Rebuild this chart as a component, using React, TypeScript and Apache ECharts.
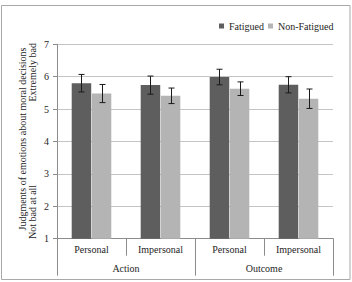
import React, { useEffect, useRef } from "react";
import * as echarts from "echarts";

// Conditions (inner axis level) and their groups (outer axis level)
const conditions = ["Personal", "Impersonal", "Personal", "Impersonal"];
const groups = ["Action", "Outcome"];

// Mean ratings and error margins per condition
const fatigued = [5.8, 5.74, 5.99, 5.75];
const fatiguedErr = [0.27, 0.28, 0.24, 0.25];
const nonFatigued = [5.48, 5.41, 5.63, 5.32];
const nonFatiguedErr = [0.28, 0.24, 0.21, 0.3];

const yTicks = [1, 2, 3, 4, 5, 6, 7];

const FONT = "Liberation Serif";
const DARK = "#5e5e5e";
const LIGHT = "#b4b4b4";
const AXIS = "#8c8c8c";
const GRID = "#c4c4c4";
const TEXT = "#1e1e1e";

const BAR_W = 19.5;
const BAR_GAP = 0.03;
const HALF_STEP = (BAR_W * (1 + BAR_GAP)) / 2;

function errorSeries(name: string, means: number[], errs: number[], dx: number) {
  return {
    name,
    type: "custom",
    xAxisIndex: 0,
    yAxisIndex: 0,
    z: 10,
    silent: true,
    data: means.map((m, i) => [i, m, errs[i]]),
    encode: { x: 0, y: 1 },
    renderItem: (_params: any, api: any) => {
      const cat = api.value(0);
      const mean = api.value(1);
      const err = api.value(2);
      const top = api.coord([cat, mean + err]);
      const bot = api.coord([cat, mean - err]);
      const x = Math.round(top[0] + dx) + 0.5;
      const style = { stroke: "#1a1a1a", lineWidth: 1 };
      return {
        type: "group",
        children: [
          { type: "line", shape: { x1: x, y1: top[1], x2: x, y2: bot[1] }, style },
          { type: "line", shape: { x1: x - 3, y1: top[1], x2: x + 3, y2: top[1] }, style },
          { type: "line", shape: { x1: x - 3, y1: bot[1], x2: x + 3, y2: bot[1] }, style },
        ],
      };
    },
  };
}

function titleText(text: string, x: number, y: number, align: string) {
  return {
    type: "text",
    x,
    y,
    rotation: Math.PI / 2,
    silent: true,
    style: {
      text,
      fontFamily: FONT,
      fontSize: 10,
      fill: TEXT,
      align,
      verticalAlign: "middle",
    },
  };
}

export default function App() {
  const ref = useRef<HTMLDivElement>(null);

  useEffect(() => {
    if (!ref.current) return;
    const chart = echarts.init(ref.current, undefined, { renderer: "svg" });
    chart.setOption({
      animation: false,
      backgroundColor: "#ffffff",
      textStyle: { fontFamily: FONT },
      grid: { left: 57, right: 19, top: 44.3, bottom: 43.3, containLabel: false },
      legend: {
        data: ["Fatigued", "Non-Fatigued"],
        left: 219,
        top: 21,
        padding: 0,
        icon: "rect",
        itemWidth: 5,
        itemHeight: 5,
        itemGap: 4,
        textStyle: { fontFamily: FONT, fontSize: 10, color: TEXT },
      },
      xAxis: [
        {
          type: "category",
          data: conditions,
          position: "bottom",
          axisLine: { show: true, lineStyle: { color: AXIS, width: 1 } },
          axisTick: { show: true, length: 17, interval: 0, lineStyle: { color: AXIS } },
          axisLabel: { interval: 0, margin: 6, fontSize: 10, color: TEXT, fontFamily: FONT },
          splitLine: { show: false },
        },
        {
          type: "category",
          data: groups,
          position: "bottom",
          axisLine: { show: false },
          axisTick: { show: true, length: 37, interval: 0, lineStyle: { color: AXIS } },
          axisLabel: { interval: 0, margin: 25, fontSize: 10, color: TEXT, fontFamily: FONT },
          splitLine: { show: false },
        },
      ],
      yAxis: {
        type: "value",
        min: yTicks[0],
        max: yTicks[yTicks.length - 1],
        interval: 1,
        axisLine: { show: true, lineStyle: { color: AXIS, width: 1 } },
        axisTick: { show: true, length: 4, lineStyle: { color: AXIS } },
        axisLabel: { margin: 8, fontSize: 10, color: TEXT, fontFamily: FONT },
        splitLine: { show: true, lineStyle: { color: GRID, width: 1 } },
      },
      series: [
        {
          name: "Fatigued",
          type: "bar",
          data: fatigued,
          barWidth: BAR_W,
          barGap: `${BAR_GAP * 100}%`,
          itemStyle: { color: DARK },
        },
        {
          name: "Non-Fatigued",
          type: "bar",
          data: nonFatigued,
          barWidth: BAR_W,
          barGap: `${BAR_GAP * 100}%`,
          itemStyle: { color: LIGHT },
        },
        errorSeries("Fatigued SE", fatigued, fatiguedErr, -HALF_STEP),
        errorSeries("Non-Fatigued SE", nonFatigued, nonFatiguedErr, HALF_STEP),
      ],
      graphic: [
        {
          type: "rect",
          shape: { x: 1.5, y: 5.5, width: 348.5, height: 274 },
          style: { fill: "none", stroke: "#a8a8a8", lineWidth: 1 },
          silent: true,
          z: -1,
        },
        titleText("Judgments of emotions about moral decisions", 22, 139, "center"),
        titleText("Not bad at all", 32, 239, "left"),
        titleText("Extremely bad", 32, 43, "right"),
      ],
    });
    return () => chart.dispose();
  }, []);

  return (
    <div
      ref={ref}
      style={{ position: "fixed", left: 0, top: 0, width: 352, height: 282, background: "#ffffff" }}
    />
  );
}
